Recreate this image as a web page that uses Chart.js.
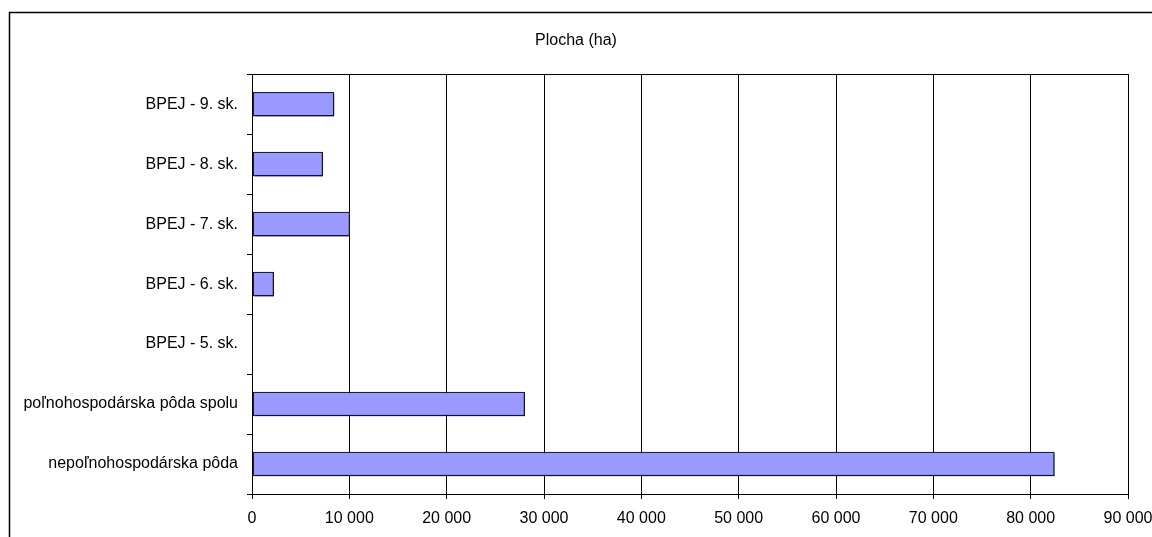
<!DOCTYPE html>
<html>
<head>
<meta charset="utf-8">
<script src="https://cdn.jsdelivr.net/npm/chart.js@4/dist/chart.umd.min.js"></script>
<style>
  html, body { margin: 0; padding: 0; background: #fff; }
  #wrap { width: 1152px; height: 537px; }
</style>
</head>
<body>
<div id="wrap"><canvas id="plot" width="1152" height="537"></canvas></div>
<script>
const categories = [
  "BPEJ - 9. sk.",
  "BPEJ - 8. sk.",
  "BPEJ - 7. sk.",
  "BPEJ - 6. sk.",
  "BPEJ - 5. sk.",
  "poľnohospodárska pôda spolu",
  "nepoľnohospodárska pôda"
];
const plochaHa = [8460, 7300, 10070, 2260, 0, 28050, 82470];
const xTicks = [0, 10000, 20000, 30000, 40000, 50000, 60000, 70000, 80000, 90000];

const formatNumber = (v) => String(v).replace(/\B(?=(\d{3})+(?!\d))/g, " ");
const FONT = "Liberation Sans, Arial, sans-serif";

// ramik okolo celeho grafu + okolo plochy grafu, tien pod stlpcami
const framePlugin = {
  id: "frame",
  beforeDatasetsDraw(chart) {
    const ctx = chart.ctx;
    ctx.save();
    ctx.shadowColor = "rgba(0,0,0,0.35)";
    ctx.shadowOffsetX = 2;
    ctx.shadowOffsetY = 2;
    ctx.shadowBlur = 0;
  },
  afterDatasetsDraw(chart) {
    chart.ctx.restore();
  },
  afterDraw(chart) {
    const ctx = chart.ctx;
    const a = chart.chartArea;
    ctx.save();
    ctx.strokeStyle = "#000";
    ctx.lineWidth = 1;
    ctx.strokeRect(Math.round(a.left) + 0.5, Math.round(a.top) + 0.5,
      Math.round(a.right - a.left), Math.round(a.bottom - a.top));
    ctx.lineWidth = 1.5;
    ctx.strokeRect(9.5, 12.5, 1200, 600);
    ctx.restore();
  }
};

new Chart(document.getElementById("plot"), {
  type: "bar",
  data: {
    labels: categories,
    datasets: [{
      label: "Plocha (ha)",
      data: plochaHa,
      backgroundColor: "#9999ff",
      borderColor: "#1a1a40",
      borderWidth: 1.5,
      borderSkipped: false,
      categoryPercentage: 1,
      barPercentage: 0.41
    }]
  },
  options: {
    indexAxis: "y",
    responsive: false,
    animation: false,
    devicePixelRatio: 1,
    layout: { padding: 0 },
    plugins: {
      legend: { display: false },
      tooltip: { enabled: false },
      title: {
        display: true,
        text: "Plocha (ha)",
        color: "#000",
        font: { family: FONT, size: 16, weight: "normal" },
        padding: { top: 31, bottom: 24 }
      }
    },
    scales: {
      x: {
        min: 0,
        max: 90000,
        afterBuildTicks: (scale) => { scale.ticks = xTicks.map(v => ({ value: v })); },
        afterFit: (scale) => { scale.height = 43; scale.paddingRight = 24; },
        ticks: {
          color: "#000",
          padding: 10,
          maxRotation: 0,
          font: { family: FONT, size: 16 },
          callback: (value) => formatNumber(value)
        },
        grid: { color: "#000", lineWidth: 1, tickLength: 5 },
        border: { color: "#000", width: 1 }
      },
      y: {
        afterFit: (scale) => { scale.width = 252; },
        ticks: {
          color: "#000",
          padding: 9,
          font: { family: FONT, size: 16 }
        },
        grid: { color: "#000", drawOnChartArea: false, tickLength: 5 },
        border: { color: "#000", width: 1 }
      }
    }
  },
  plugins: [framePlugin]
});
</script>
</body>
</html>
